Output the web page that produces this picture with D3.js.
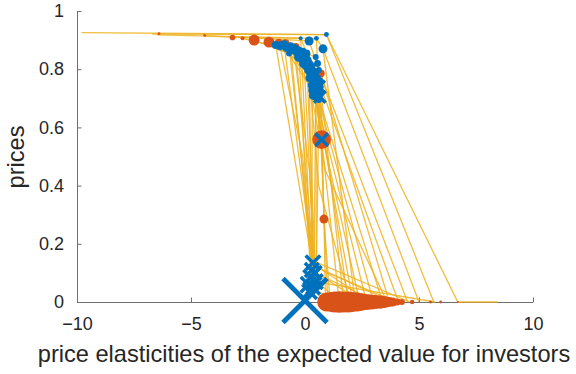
<!DOCTYPE html>
<html>
<head>
<meta charset="utf-8">
<script src="https://cdn.jsdelivr.net/npm/d3@7"></script>
<style>
  body { margin: 0; background: #fff; }
  text { font-family: "Liberation Sans", Arial, sans-serif; }
</style>
</head>
<body>
<svg id="chart"></svg>
<script>
// price paths (elasticity, price)
const pricePaths = [
  [[-9.8, 0.926], [0.94, 0.919], [6.7, 0.0], [8.45, 0.0]],
  [[-6.7, 0.921], [0.94, 0.919], [5.65, 0.0]],
  [[-6.5, 0.918], [0.5, 0.906], [0.79, 0.87], [5.0, 0.0]],
  [[-4.4, 0.915], [0.18, 0.897], [0.61, 0.797], [4.5, 0.0]],
  [[-3.2, 0.91], [-0.19, 0.906], [0.69, 0.74], [4.1, 0.0]],
  [[-2.75, 0.906], [0.06, 0.854], [0.47, 0.842], [3.7, 0.0]],
  [[-2.25, 0.9], [-0.26, 0.842], [0.4, 0.751], [3.4, 0.0]],
  [[-1.6, 0.891], [-0.04, 0.82], [0.32, 0.774], [3.0, 0.0]],
  [[-1.28, 0.883], [0.18, 0.797], [2.7, 0.0]],
  [[-1.0, 0.886], [0.32, 0.728], [2.4, 0.0]],
  [[-0.7, 0.877], [0.47, 0.705], [2.1, 0.0]],
  [[-0.41, 0.866], [0.61, 0.694], [1.9, 0.0]],
  [[-1.28, 0.883], [0.3, 0.14], [0.0, 0.005]],
  [[-0.92, 0.886], [0.35, 0.135], [0.05, 0.0]],
  [[-0.63, 0.877], [0.3, 0.11]],
  [[-0.41, 0.866], [0.42, 0.1], [3.2, 0.0]],
  [[-0.26, 0.842], [0.25, 0.085], [1.6, 0.0]],
  [[-0.04, 0.82], [0.45, 0.07], [5.7, 0.0]],
  [[0.18, 0.797], [0.35, 0.05], [1.3, 0.0]],
  [[0.32, 0.774], [0.73, 0.558], [0.83, 0.285], [1.1, 0.0]],
  [[0.4, 0.751], [0.73, 0.558], [1.5, 0.0]],
  [[0.47, 0.705], [0.4, 0.14], [4.6, 0.0]],
  [[0.32, 0.728], [0.3, 0.12], [0.2, 0.035]],
  [[0.61, 0.694], [0.5, 0.1], [2.5, 0.0]],
  [[0.69, 0.74], [0.83, 0.285], [0.9, 0.0]],
  [[0.06, 0.854], [0.45, 0.12], [4.0, 0.0]],
  [[-0.19, 0.906], [0.28, 0.15], [0.15, 0.06]],
  [[0.5, 0.906], [1.0, 0.0]],
  [[0.79, 0.87], [2.2, 0.0]],
  [[0.61, 0.797], [1.7, 0.0]],
  [[0.47, 0.842], [0.5, 0.12], [3.8, 0.0]],
  [[-0.7, 0.877], [0.36, 0.13], [2.9, 0.0]],
  [[-1.1, 0.88], [-0.1, 0.5], [0.32, 0.13]],
  [[-0.5, 0.87], [0.2, 0.45], [0.38, 0.12]],
  [[0.15, 0.815], [0.6, 0.4], [2.0, 0.0]],
  [[0.0, 0.835], [0.9, 0.45], [3.6, 0.0]]
];

// orange points: [elasticity, price, weight]
const orangePts = [
  [-6.4, 0.922, 2], [-4.4, 0.916, 2], [-3.18, 0.909, 8], [-2.74, 0.906, 4],
  [-2.23, 0.9, 30], [-1.58, 0.893, 30], [-1.15, 0.89, 18], [-0.85, 0.89, 14],
  [-0.4, 0.878, 12], [0.69, 0.785, 16], [0.62, 0.76, 10], [0.73, 0.558, 88],
  [0.83, 0.285, 20],
  [0.95, 0, 90], [1.15, 0, 100], [1.3, 0, 110], [1.5, 0, 115], [1.7, 0, 110],
  [1.9, 0, 110], [2.1, 0, 100], [2.3, 0, 90], [2.5, 0, 75], [2.7, 0, 65],
  [2.9, 0, 58], [3.1, 0, 50], [3.3, 0, 44], [3.5, 0, 36], [3.7, 0, 25],
  [3.85, 0, 20], [4.05, 0, 12], [4.25, 0, 9], [4.7, 0, 5], [5.5, 0, 2.2],
  [5.95, 0, 2.2], [6.7, 0, 1]
];

// blue points: [elasticity, price, weight]
const bluePts = [
  [-1.28, 0.883, 16], [-0.92, 0.886, 16], [-0.63, 0.877, 20], [-0.41, 0.866, 25],
  [-0.19, 0.906, 4], [0.18, 0.897, 20], [0.5, 0.906, 6], [0.94, 0.919, 6],
  [0.79, 0.87, 20], [-0.26, 0.842, 25], [-0.04, 0.82, 25], [0.18, 0.797, 25],
  [0.32, 0.774, 25], [0.4, 0.751, 25], [0.32, 0.728, 16], [0.47, 0.705, 16],
  [0.61, 0.694, 9], [0.69, 0.74, 9], [0.06, 0.854, 16], [0.47, 0.842, 9],
  [-0.7, 0.854, 9], [0.61, 0.797, 9], [0.1, 0.83, 20], [0.25, 0.81, 20],
  [0.45, 0.79, 16], [0.55, 0.77, 12], [0.5, 0.73, 16], [-0.1, 0.86, 16],
  [-1.1, 0.88, 20], [-0.8, 0.875, 22], [-0.5, 0.87, 25], [-0.3, 0.86, 30],
  [-0.15, 0.845, 30], [0.0, 0.835, 30], [0.15, 0.815, 30], [0.28, 0.79, 30],
  [0.38, 0.765, 30], [0.45, 0.74, 25], [0.55, 0.715, 20], [0.42, 0.72, 20],
  [0.3, 0.745, 16], [0.62, 0.72, 16], [0.35, 0.71, 16], [0.2, 0.77, 16],
  [0.55, 0.82, 12], [0.65, 0.76, 12], [0.05, 0.81, 16]
];

// blue crosses: [elasticity, price, weight]
const blueCrosses = [
  [0.35, 0.135, 55], [0.3, 0.11, 50], [0.42, 0.1, 50], [0.25, 0.085, 55],
  [0.45, 0.07, 55], [0.15, 0.06, 60], [0.35, 0.05, 50], [0.2, 0.035, 55],
  [0.0, 0.005, 500], [0.73, 0.558, 40], [0.4, 0.78, 35], [0.6, 0.74, 40],
  [0.5, 0.72, 35], [0.65, 0.705, 35]
];

const xTicks = [-10, -5, 0, 5, 10];
const yTicks = [0, 0.2, 0.4, 0.6, 0.8, 1];
const xLabel = "price elasticities of the expected value for investors";
const yLabel = "prices";

const width = 576, height = 374;
const svg = d3.select("#chart").attr("width", width).attr("height", height);

const x = d3.scaleLinear().domain([-10, 10]).range([77, 533]);
const y = d3.scaleLinear().domain([0, 1]).range([302, 11]);
const rScale = d3.scaleSqrt().domain([0, 100]).range([0, 10]);
const crossScale = d3.scaleSqrt().domain([0, 500]).range([0, 22]);

const COL_Y = "#EDB120", COL_O = "#D95319", COL_B = "#0072BD";

// axes
const axisX = svg.append("g")
  .attr("transform", "translate(0,302)")
  .call(d3.axisBottom(x).tickValues(xTicks).tickSizeInner(-4.5).tickSizeOuter(0).tickPadding(15));
const axisY = svg.append("g")
  .attr("transform", "translate(77,0)")
  .call(d3.axisLeft(y).tickValues(yTicks).tickFormat(d3.format("~g"))
    .tickSizeInner(-4.5).tickSizeOuter(0).tickPadding(13));

[axisX, axisY].forEach(g => {
  g.attr("font-size", 18).attr("font-family", null).attr("color", "#262626");
  g.selectAll("path, line").attr("stroke", "#6f6f6f");
});

// lines
const line = d3.line().x(d => x(d[0])).y(d => y(d[1]));
svg.append("g")
  .selectAll("path")
  .data(pricePaths)
  .join("path")
  .attr("d", line)
  .attr("fill", "none")
  .attr("stroke", COL_Y)
  .attr("stroke-opacity", 0.85)
  .attr("stroke-width", 1.3);

// orange dots
svg.append("g")
  .selectAll("circle")
  .data(orangePts)
  .join("circle")
  .attr("cx", d => x(d[0]))
  .attr("cy", d => y(d[1]))
  .attr("r", d => rScale(d[2]))
  .attr("fill", COL_O);

// blue dots
svg.append("g")
  .selectAll("circle")
  .data(bluePts)
  .join("circle")
  .attr("cx", d => x(d[0]))
  .attr("cy", d => y(d[1]))
  .attr("r", d => rScale(d[2]))
  .attr("fill", COL_B);

// blue crosses
svg.append("g")
  .selectAll("path")
  .data(blueCrosses)
  .join("path")
  .attr("transform", d => `translate(${x(d[0])},${y(d[1])})`)
  .attr("d", d => {
    const h = crossScale(d[2]);
    return `M${-h},${-h}L${h},${h}M${-h},${h}L${h},${-h}`;
  })
  .attr("fill", "none")
  .attr("stroke", COL_B)
  .attr("stroke-width", d => Math.max(3.5, crossScale(d[2]) * 0.22));

// axis labels
svg.append("text")
  .attr("x", 304)
  .attr("y", 362)
  .attr("text-anchor", "middle")
  .attr("font-size", 23.6)
  .attr("fill", "#262626")
  .text(xLabel);

svg.append("text")
  .attr("transform", "translate(24,157) rotate(-90)")
  .attr("text-anchor", "middle")
  .attr("font-size", 23.6)
  .attr("fill", "#262626")
  .text(yLabel);
</script>
</body>
</html>
